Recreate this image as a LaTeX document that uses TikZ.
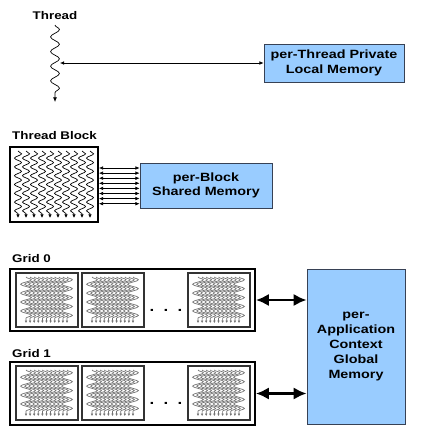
\documentclass[tikz,border=0pt]{standalone}
\usepackage{fontspec}
\setmainfont{Liberation Sans}[FakeStretch=1.2]
\usetikzlibrary{arrows.meta,decorations.pathmorphing}
\definecolor{memblue}{RGB}{153,204,255}
\definecolor{memedge}{RGB}{55,65,85}
\tikzset{
  memBox/.style={draw=memedge, line width=0.7pt, fill=memblue, align=center,
    font=\fontsize{10.2}{12.6}\selectfont\bfseries, inner sep=0pt},
  lbl/.style={font=\fontsize{9.5}{11}\selectfont\bfseries, inner sep=0pt},
  threadWave/.style={decorate, decoration={snake, amplitude=3.8pt, segment length=12.5pt, post length=3pt},
    arrows={-Latex[length=4pt,width=3.5pt]}, line width=0.6pt},
  blockWave/.style={decorate, decoration={snake, amplitude=3pt, segment length=7.5pt, post length=2.5pt},
    arrows={-Latex[length=3pt,width=3pt]}, line width=0.6pt},
  miniWave/.style={decorate, decoration={snake, amplitude=4.6pt, segment length=7.6pt, post length=1.5pt},
    arrows={-Latex[length=2pt,width=2.2pt]}, line width=0.6pt, draw=black!55},
  thinArrow/.style={arrows={Latex[length=3.5pt,width=3pt]-Latex[length=3.5pt,width=3pt]}, line width=0.5pt},
  bigArrow/.style={arrows={Latex[length=11pt,width=10.5pt]-Latex[length=11pt,width=10.5pt]}, line width=2.4pt},
}
\def\miniblock(#1,#2){%
  \begin{scope}[shift={(#1,#2)}]
    \draw[line width=0.9pt, draw=black!80, fill=white] (0,0) rectangle (62,54);
    \foreach \k in {0,...,10}
      \draw[miniWave] (10+4.1*\k,4) -- (10+4.1*\k,50);
  \end{scope}}

\begin{document}
\begin{tikzpicture}[x=0.03cm,y=-0.03cm]
  %%%%% START %%%%%
  \useasboundingbox[fill=white] (0,0) rectangle (445,443);

  % single thread
  \node[lbl] (lblThread) at (55,16) {Thread};
  \coordinate (thrTop) at (55,25);
  \coordinate (thrBot) at (55,102);
  \coordinate (thrMid) at (60,63);
  \draw[threadWave] (thrTop) -- (thrBot);
  \node[memBox, minimum width=140*0.03cm, minimum height=38*0.03cm] (memThread) at (334,63)
    {per-Thread Private\\Local Memory};
  \draw[thinArrow] (thrMid) -- (memThread.west);

  % thread block
  \node[lbl, anchor=west] (lblBlock) at (12,136) {Thread Block};
  \node[draw, line width=1.6pt, minimum width=88*0.03cm, minimum height=75*0.03cm] (block) at (54,184.5) {};
  \foreach \i in {0,...,9}
    \draw[blockWave] (18+8*\i,151) -- (18+8*\i,218);
  \node[memBox, minimum width=132*0.03cm, minimum height=45*0.03cm] (memBlock) at (206,185.5)
    {per-Block\\Shared Memory};
  \foreach \i in {0,...,7}
    \draw[thinArrow] (block.east |- 0,168+5.1*\i) -- (memBlock.west |- 0,168+5.1*\i);

  % grids
  \node[lbl, anchor=west] (lblGrid0) at (12,259) {Grid 0};
  \node[draw, line width=1.6pt, minimum width=245*0.03cm, minimum height=62*0.03cm] (grid0) at (132.5,300) {};
  \node[lbl, anchor=west] (lblGrid1) at (12,354) {Grid 1};
  \node[draw, line width=1.6pt, minimum width=245*0.03cm, minimum height=63*0.03cm] (grid1) at (132.5,393.5) {};
  \foreach \gy in {273,366}{
    \miniblock(16,\gy)
    \miniblock(82,\gy)
    \miniblock(188,\gy)
    \node[font=\fontsize{12}{12}\selectfont\bfseries] at (166,\gy+37) {.\hspace{8pt}.\hspace{8pt}.};
  }

  \node[memBox, minimum width=98*0.03cm, minimum height=155*0.03cm] (memGlobal) at (356,346.5)
    {per-\\Application\\Context\\Global\\Memory};
  \draw[bigArrow] (grid0.east) -- (grid0.east -| memGlobal.west);
  \draw[bigArrow] (grid1.east) -- (grid1.east -| memGlobal.west);
  %%%%% END %%%%%
\end{tikzpicture}
\end{document}
